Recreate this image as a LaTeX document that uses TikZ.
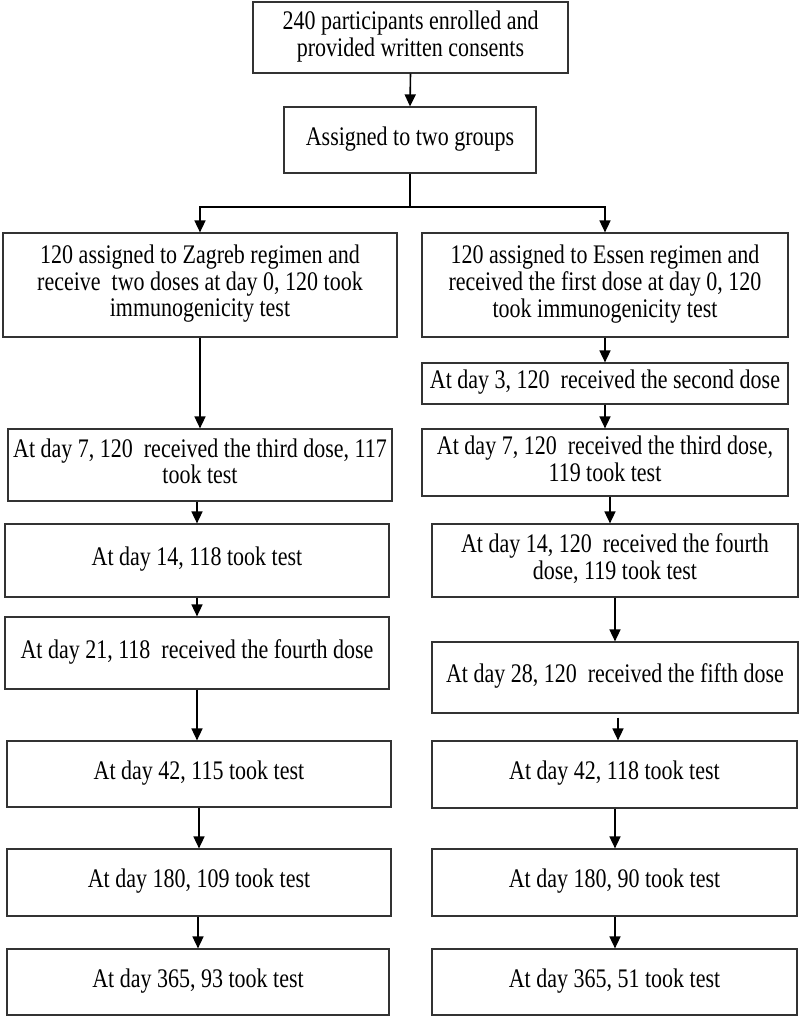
\documentclass[tikz,border=0pt]{standalone}
\usepackage{fontspec}
\setmainfont{Liberation Serif}
\usetikzlibrary{arrows.meta}
\newcommand{\stretchtxt}[1]{\scalebox{1}[1.22]{\fontsize{22}{21.7}\selectfont\begin{tabular}{@{}c@{}}#1\end{tabular}}}
\begin{document}
\begin{tikzpicture}[x=1pt,y=-1pt,
  box/.style={draw=black!80, line width=1.2pt, rectangle, inner sep=0pt, align=center, text=black},
  arr/.style={line width=1.6pt, draw=black, -{Triangle[length=12pt,width=11pt]}},
  plain/.style={line width=1.6pt, draw=black}]
\useasboundingbox[fill=white] (0,0) rectangle (800,1018);
% top
\node[box, minimum width=315pt, minimum height=71pt] (top) at (410.5,37.5) {\stretchtxt{240 participants enrolled and\\provided written consents}};
\node[box, minimum width=252pt, minimum height=66pt] (assign) at (410,140) {\stretchtxt{Assigned to two groups}};
% left column
\node[box, minimum width=394pt, minimum height=104pt] (L1) at (200,285) {\stretchtxt{120 assigned to Zagreb regimen and\\receive\ \ two doses at day 0, 120 took\\immunogenicity test}};
\node[box, minimum width=384pt, minimum height=72pt] (L7) at (200,465) {\stretchtxt{At day 7, 120\ \ received the third dose, 117\\took test}};
\node[box, minimum width=384pt, minimum height=73pt] (L14) at (197,560.5) {\stretchtxt{At day 14, 118 took test}};
\node[box, minimum width=384pt, minimum height=72pt] (L21) at (197,653) {\stretchtxt{At day 21, 118\ \ received the fourth dose}};
\node[box, minimum width=384pt, minimum height=66pt] (L42) at (199,774) {\stretchtxt{At day 42, 115 took test}};
\node[box, minimum width=384pt, minimum height=67pt] (L180) at (199,882.5) {\stretchtxt{At day 180, 109 took test}};
\node[box, minimum width=382pt, minimum height=66pt] (L365) at (198,982) {\stretchtxt{At day 365, 93 took test}};
% right column
\node[box, minimum width=366pt, minimum height=104pt] (R1) at (605,285) {\stretchtxt{120 assigned to Essen regimen and\\received the first dose at day 0, 120\\took immunogenicity test}};
\node[box, minimum width=366pt, minimum height=41pt] (R3) at (605,383.5) {\stretchtxt{At day 3, 120\ \ received the second dose}};
\node[box, minimum width=366pt, minimum height=67pt] (R7) at (605,462.5) {\stretchtxt{At day 7, 120\ \ received the third dose,\\119 took test}};
\node[box, minimum width=366pt, minimum height=73pt] (R14) at (615,560.5) {\stretchtxt{At day 14, 120\ \ received the fourth\\dose, 119 took test}};
\node[box, minimum width=366pt, minimum height=71pt] (R28) at (615,677.5) {\stretchtxt{At day 28, 120\ \ received the fifth dose}};
\node[box, minimum width=365pt, minimum height=67pt] (R42) at (614.5,774.5) {\stretchtxt{At day 42, 118 took test}};
\node[box, minimum width=365pt, minimum height=67pt] (R180) at (614.5,882.5) {\stretchtxt{At day 180, 90 took test}};
\node[box, minimum width=365pt, minimum height=66pt] (R365) at (614.5,982) {\stretchtxt{At day 365, 51 took test}};
% connectors
\draw[arr] (top.south) -- (assign.north);
\coordinate (split) at (410,207);
\draw[plain] (assign.south) -- (split);
\draw[arr] (split) -| (L1.north);
\draw[arr] (split) -| (R1.north);
\draw[arr] (L1.south) -- (L1.south |- L7.north);
\draw[arr] (L7.south -| L14.north) -- (L14.north);
\draw[arr] (L14.south) -- (L21.north);
\draw[arr] (L21.south) -- (L21.south |- L42.north);
\draw[arr] (L42.south) -- (L180.north);
\draw[arr] (L180.south -| L365.north) -- (L365.north);
\draw[arr] (R1.south) -- (R3.north);
\draw[arr] (R3.south) -- (R7.north);
\draw[arr] ([xshift=5pt]R7.south) -- ([xshift=5pt]R7.south |- R14.north);
\draw[arr] (R14.south) -- (R28.north);
\draw[arr, shorten <=4pt] ([xshift=3pt]R28.south) -- ([xshift=3pt]R28.south |- R42.north);
\draw[arr] ([xshift=0.5pt]R42.south) -- ([xshift=0.5pt]R180.north);
\draw[arr] ([xshift=0.5pt]R180.south) -- ([xshift=0.5pt]R365.north);
\end{tikzpicture}
\end{document}
